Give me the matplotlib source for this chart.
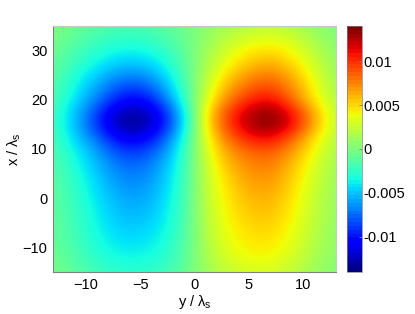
import numpy as np
import matplotlib
matplotlib.use("Agg")
import matplotlib.pyplot as plt
from matplotlib.cm import ScalarMappable
from matplotlib.colors import Normalize

plt.rcParams['font.family'] = ['Liberation Sans', 'DejaVu Sans']
plt.rcParams['mathtext.fontset'] = 'custom'
plt.rcParams['mathtext.rm'] = 'Liberation Sans'
plt.rcParams['mathtext.it'] = 'Liberation Sans'
plt.rcParams['mathtext.default'] = 'regular'

# values, in units of 1e-3
# columns: y = -13, -11, ... 13 / rows: x = 35, 32.5, ... -15
y_vals = np.arange(-13, 14, 2)
x_vals = np.arange(35, -15.1, -2.5)
field_e3 = [
    [0.2, -0.7, -1.3, -1.7, -1.7, -1.3, -0.5, 0.5, 1.4, 2.0, 2.3, 1.8, 0.8, 0.0],
    [-0.1, -1.1, -2.0, -2.6, -2.6, -1.9, -0.8, 0.8, 2.2, 3.1, 3.5, 2.9, 1.4, 0.2],
    [-0.5, -1.7, -2.8, -3.6, -3.7, -2.8, -1.1, 1.1, 3.0, 4.4, 4.9, 3.9, 2.1, 0.5],
    [-0.8, -2.3, -3.7, -4.8, -5.0, -3.8, -1.5, 1.5, 3.9, 5.6, 6.3, 5.0, 2.8, 0.8],
    [-1.0, -3.0, -4.8, -6.5, -6.8, -5.0, -1.9, 1.9, 5.0, 7.1, 8.0, 6.2, 3.4, 1.0],
    [-1.3, -3.6, -5.9, -8.3, -8.8, -6.5, -2.4, 2.4, 6.3, 8.6, 9.6, 7.3, 4.0, 1.3],
    [-1.6, -4.2, -7.0, -10.0, -10.9, -8.2, -3.0, 3.0, 7.6, 10.4, 11.4, 8.4, 4.7, 1.6],
    [-1.9, -5.0, -8.6, -12.4, -13.2, -10.4, -4.5, 4.1, 9.4, 12.5, 13.7, 11.0, 6.2, 2.1],
    [-2.0, -5.2, -9.0, -13.0, -13.6, -10.6, -4.8, 4.2, 9.6, 12.8, 14.0, 11.5, 6.5, 2.2],
    [-1.8, -4.6, -7.6, -11.0, -11.6, -9.0, -3.6, 3.5, 8.3, 11.1, 11.7, 9.0, 5.0, 1.8],
    [-1.5, -3.8, -6.2, -9.0, -9.4, -7.3, -2.9, 2.9, 7.0, 8.8, 9.3, 7.2, 4.0, 1.5],
    [-1.3, -3.3, -5.4, -7.6, -8.0, -6.2, -2.6, 2.6, 6.1, 7.7, 8.1, 6.1, 3.4, 1.3],
    [-1.1, -2.9, -4.9, -6.8, -7.2, -5.6, -2.4, 2.4, 5.4, 7.0, 7.4, 5.5, 3.0, 1.1],
    [-1.0, -2.6, -4.5, -6.2, -6.6, -5.2, -2.3, 2.3, 4.9, 6.5, 6.8, 5.0, 2.7, 1.0],
    [-0.9, -2.4, -4.2, -5.7, -6.1, -4.8, -2.2, 2.2, 4.6, 6.0, 6.3, 4.7, 2.5, 0.9],
    [-0.9, -2.2, -3.9, -5.3, -5.6, -4.5, -2.1, 2.1, 4.3, 5.6, 5.8, 4.4, 2.3, 0.9],
    [-0.8, -2.1, -3.7, -4.9, -5.1, -4.2, -2.0, 2.0, 4.1, 5.2, 5.4, 4.1, 2.2, 0.8],
    [-0.7, -2.0, -3.4, -4.5, -4.6, -3.8, -1.8, 1.8, 3.8, 4.8, 4.9, 3.7, 2.0, 0.7],
    [-0.6, -1.8, -3.1, -4.0, -4.1, -3.4, -1.6, 1.6, 3.5, 4.4, 4.5, 3.4, 1.8, 0.6],
    [-0.4, -1.5, -2.6, -3.4, -3.5, -2.9, -1.4, 1.4, 3.0, 3.8, 3.9, 2.9, 1.5, 0.4],
    [-0.2, -1.1, -2.1, -2.7, -2.8, -2.3, -1.1, 1.1, 2.4, 3.0, 3.1, 2.3, 1.1, 0.2],
]
x_ticks = [-10, 0, 10, 20, 30]
y_ticks = [-10, -5, 0, 5, 10]
cbar_ticks = [-0.01, -0.005, 0, 0.005, 0.01]
cbar_labels = ["-0.01", "-0.005", "0", "0.005", "0.01"]

W, H = 415, 314
FRAME = "#808080"
FS = 10.5
field = np.array(field_e3) * 1e-3
norm = Normalize(-0.014, 0.014)

fig = plt.figure(figsize=(W / 100, H / 100), dpi=100)
ax = fig.add_axes([53 / W, 1 - 272 / H, 283 / W, 246 / H])
cax = fig.add_axes([347 / W, 1 - 272 / H, 14.5 / W, 246 / H])

dy = 1.0
dx = 1.25
ax.imshow(field, cmap="jet", norm=norm, aspect="auto", interpolation="bicubic",
          extent=[y_vals[0] - dy, y_vals[-1] + dy, x_vals[-1] - dx, x_vals[0] + dx])
ax.set_xlim(-13, 13)
ax.set_ylim(-15, 35)
ax.set_xticks(y_ticks)
ax.set_yticks(x_ticks)
ax.tick_params(length=0, labelsize=FS, pad=4)
ax.set_xlabel(r"y / $\lambda_s$", fontsize=FS, labelpad=1)
ax.set_ylabel(r"x / $\lambda_s$", fontsize=FS, labelpad=0)
for s in ax.spines.values():
    s.set_color(FRAME)
    s.set_linewidth(0.8)
ax.spines["top"].set_color("#c8c8c8")
ax.spines["right"].set_color("#c8c8c8")

# the colorbar shows the 64 steps of the original colormap
cb = fig.colorbar(ScalarMappable(norm=norm, cmap=plt.get_cmap("jet", 64)), cax=cax)
cb.set_ticks(cbar_ticks)
cb.set_ticklabels(cbar_labels)
cb.ax.tick_params(direction="in", length=2, width=0.6, color=FRAME, labelsize=FS, pad=1)
cb.outline.set_edgecolor(FRAME)
cb.outline.set_linewidth(0.5)

fig.savefig("out.png", dpi=100)
